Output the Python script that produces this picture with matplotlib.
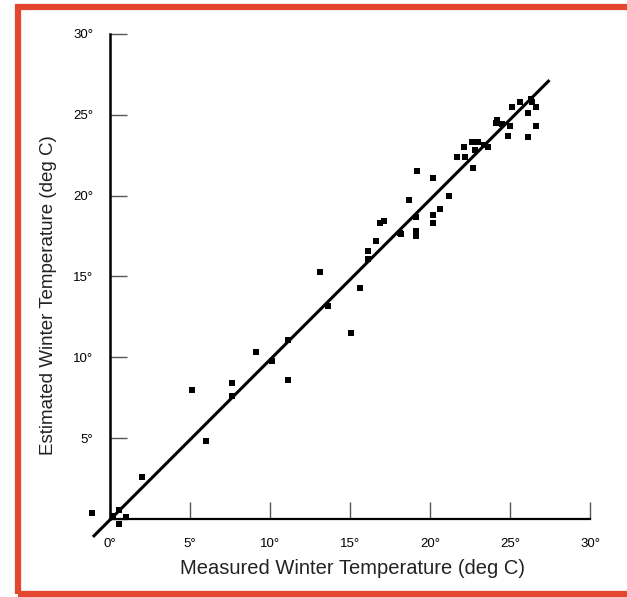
import matplotlib
matplotlib.use("Agg")
import matplotlib.pyplot as plt
from matplotlib.patches import Rectangle
import numpy as np

plt.rcParams['font.family'] = ['Liberation Sans', 'DejaVu Sans']

measured = [-1.1, 0.2, 0.55, 1.0, 0.55, 2.0, 5.1, 6.0, 7.6, 7.6, 9.1, 10.1, 11.1, 11.1,
            13.1, 13.6, 15.05, 15.6, 16.1, 16.1, 16.6, 16.9, 17.1, 18.1, 18.2, 18.7,
            19.2, 19.1, 19.1, 19.1, 20.2, 20.2, 20.2, 20.6, 21.2, 21.7, 22.1, 22.2,
            22.6, 22.7, 23.0, 22.8, 23.4, 23.6, 24.1, 24.2, 24.5, 25.0, 24.9, 25.1,
            25.6, 26.1, 26.1, 26.3, 26.6, 26.6, 26.4]
estimated = [0.35, 0.2, 0.55, 0.1, -0.3, 2.6, 8.0, 4.8, 8.4, 7.6, 10.3, 9.8, 8.6, 11.1,
             15.3, 13.2, 11.5, 14.3, 16.6, 16.1, 17.2, 18.3, 18.4, 17.7, 17.6, 19.7,
             21.5, 18.7, 17.8, 17.5, 21.1, 18.8, 18.3, 19.2, 20.0, 22.4, 23.0, 22.4,
             23.3, 21.7, 23.3, 22.8, 23.1, 23.0, 24.5, 24.7, 24.4, 24.3, 23.7, 25.5,
             25.8, 23.6, 25.1, 26.0, 25.5, 24.3, 25.8]
fit_x = [-1.0, 27.4]
fit_slope = 0.99
fit_intercept = -0.05
ticks = [0, 5, 10, 15, 20, 25, 30]
xtick_labels = ['0°', '5°', '10°', '15°', '20°', '25°', '30°']
ytick_labels = ['', '5°', '10°', '15°', '20°', '25°', '30°']

W, H = 627, 597
fig = plt.figure(figsize=(W / 100, H / 100), dpi=100)

# red frame
fig.patches.append(Rectangle((18 / W, 3 / H), 1.2, 587 / H, transform=fig.transFigure,
                             fill=False, edgecolor='#E4472F', linewidth=4.5, zorder=0))

# axes in pixel coords: x 0 at 110 px, 16 px/unit ; y 0 at 519 px from top, 16.17 px/unit
left_px, right_px = 78, 600
bottom_px, top_px = 551, 26
ax = fig.add_axes([left_px / W, (H - bottom_px) / H, (right_px - left_px) / W, (bottom_px - top_px) / H])
ax.set_xlim((left_px - 110) / 16.0, (right_px - 110) / 16.0)
ax.set_ylim((519 - bottom_px) / 16.17, (519 - top_px) / 16.17)

ax.scatter(measured, estimated, marker='s', s=17, color='black', zorder=3, linewidths=0)
fx = np.array(fit_x)
ax.plot(fx, fit_slope * fx + fit_intercept, color='black', linewidth=2.2, zorder=2)

for s in ['top', 'right']:
    ax.spines[s].set_visible(False)
ax.spines['left'].set_position(('data', 0))
ax.spines['bottom'].set_position(('data', 0))
ax.spines['left'].set_bounds(0, 30)
ax.spines['bottom'].set_bounds(0, 30)
ax.spines['left'].set_linewidth(1.8)
ax.spines['bottom'].set_linewidth(1.6)

ax.set_xticks(ticks)
ax.set_xticklabels(xtick_labels)
ax.set_yticks(ticks)
ax.set_yticklabels(ytick_labels)
ax.tick_params(axis='x', direction='in', length=12, width=1.0, color='#555555',
               labelsize=9.5, pad=14)
ax.tick_params(axis='y', direction='in', length=12, width=1.0, color='#555555',
               labelsize=9.5, pad=12)
ax.patch.set_alpha(0)

fig.text(353 / W, 1 - 568 / H, 'Measured Winter Temperature (deg C)', ha='center', va='center',
         fontsize=14.5, color='#222222')
fig.text(49 / W, 1 - 295 / H, 'Estimated Winter Temperature (deg C)', ha='center', va='center',
         rotation=90, fontsize=13.5, color='#222222')

fig.savefig('out.png', dpi=100)
